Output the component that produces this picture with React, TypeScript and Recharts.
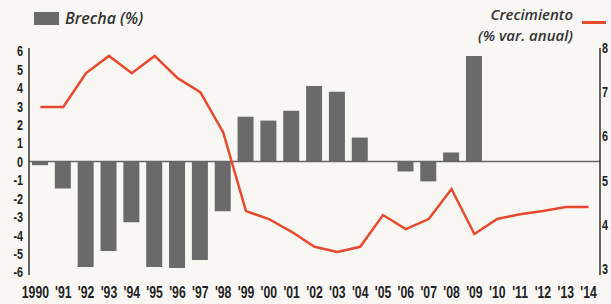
import React from "react";
import { ComposedChart, Bar, Line, XAxis, YAxis, ReferenceLine } from "recharts";

const years = [
  "1990", "'91", "'92", "'93", "'94", "'95", "'96", "'97", "'98", "'99",
  "'00", "'01", "'02", "'03", "'04", "'05", "'06", "'07", "'08", "'09",
  "'10", "'11", "'12", "'13", "'14",
];

// Brecha (%)
const brecha = [
  -0.2, -1.46, -5.73, -4.86, -3.3, -5.73, -5.78, -5.35, -2.7, 2.43,
  2.22, 2.76, 4.1, 3.78, 1.3, 0, -0.54, -1.08, 0.49, 5.73,
  0, 0, 0, 0, 0,
];

// Crecimiento (% var. anual)
const crecimiento = [
  6.66, 6.66, 7.43, 7.82, 7.43, 7.82, 7.32, 7.0, 6.09, 4.3,
  4.12, 3.83, 3.49, 3.37, 3.49, 4.21, 3.89, 4.12, 4.8, 3.78,
  4.12, 4.23, 4.3, 4.39, 4.39,
];

const leftTicks = [-6, -5, -4, -3, -2, -1, 0, 1, 2, 3, 4, 5, 6];
const rightTicks = [3, 4, 5, 6, 7, 8];

const data = years.map((year, i) => ({
  year,
  brecha: brecha[i],
  crecimiento: crecimiento[i],
}));

const tickFont = "'Liberation Sans', Arial, sans-serif";
const legendFont = "'Open Sans', 'Noto Sans', sans-serif";

// squeezed bold numerals, like the newspaper's condensed face
const NarrowTick = (props: any) => {
  const { x, y, payload, textAnchor, size, dy, shiftFirst } = props;
  const dx = shiftFirst && payload.index === 0 ? -5 : 0;
  return (
    <g transform={`translate(${x + dx},${y})`}>
      <text
        transform="scale(0.72,1)"
        textAnchor={textAnchor}
        dy={dy}
        fontFamily={tickFont}
        fontWeight={700}
        fontSize={size}
        fill="#222"
      >
        {payload.value}
      </text>
    </g>
  );
};

const legendText = {
  position: "absolute" as const,
  fontFamily: legendFont,
  fontStyle: "italic" as const,
  fontWeight: 600,
  fontSize: 15,
  color: "#333",
  whiteSpace: "nowrap" as const,
  lineHeight: "17px",
};

export default function App() {
  return (
    <div
      style={{
        position: "absolute",
        left: 0,
        top: 0,
        width: 611,
        height: 304,
        background: "#f8f7f4",
        overflow: "hidden",
      }}
    >
      <ComposedChart
        width={611}
        height={304}
        data={data}
        margin={{ top: 48, right: 0, bottom: 0, left: 0 }}
      >
        <XAxis
          dataKey="year"
          axisLine={false}
          tickLine={false}
          tickSize={0}
          tickMargin={11}
          height={29}
          interval={0}
          tick={<NarrowTick size={17} dy="0.71em" shiftFirst />}
        />
        <YAxis
          yAxisId="left"
          width={29}
          domain={[-6.16, 6.16]}
          ticks={leftTicks}
          interval={0}
          tickLine={false}
          tickSize={0}
          tickMargin={6}
          axisLine={{ stroke: "#333", strokeWidth: 1.5 }}
          tick={<NarrowTick size={15} dy="0.355em" />}
        />
        <YAxis
          yAxisId="right"
          orientation="right"
          width={11}
          domain={[2.85, 8]}
          ticks={rightTicks}
          interval={0}
          tickLine={false}
          tickSize={0}
          tickMargin={2}
          axisLine={{ stroke: "#333", strokeWidth: 1.5 }}
          tick={<NarrowTick size={15} dy="0.355em" />}
        />
        <Bar
          yAxisId="left"
          dataKey="brecha"
          fill="#6a6a6a"
          barSize={16}
          isAnimationActive={false}
        />
        <ReferenceLine yAxisId="left" y={0} stroke="#666" strokeWidth={1.5} />
        <Line
          yAxisId="right"
          dataKey="crecimiento"
          type="linear"
          stroke="#e8492c"
          strokeWidth={2.5}
          dot={false}
          isAnimationActive={false}
        />
      </ComposedChart>

      <div
        style={{
          position: "absolute",
          left: 34,
          top: 12,
          width: 25,
          height: 13,
          background: "#6a6a6a",
        }}
      />
      <div style={{ ...legendText, left: 65, top: 10, fontSize: 16 }}>Brecha (%)</div>
      <div style={{ ...legendText, right: 38, top: 6 }}>Crecimiento</div>
      <div style={{ ...legendText, right: 38, top: 27 }}>(% var. anual)</div>
      <div
        style={{
          position: "absolute",
          left: 582,
          top: 21,
          width: 24,
          height: 2.5,
          background: "#e8492c",
        }}
      />
    </div>
  );
}
